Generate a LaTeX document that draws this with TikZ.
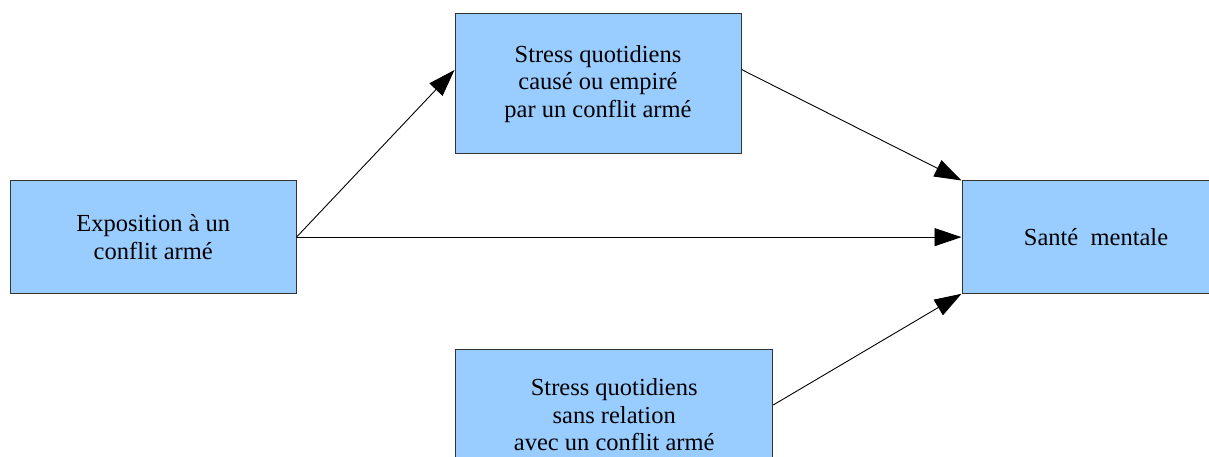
\documentclass[tikz,border=0pt]{standalone}
\usepackage{fontspec}
\setmainfont{Liberation Serif}
\usetikzlibrary{arrows.meta}
\definecolor{boxblue}{HTML}{99CCFF}
\definecolor{boxline}{HTML}{333333}
\begin{document}
\begin{tikzpicture}[x=1pt,y=1pt,
  box/.style={draw=boxline,line width=1pt,fill=boxblue,inner sep=0pt,align=center,
    font=\fontsize{24.5}{27.5}\selectfont},
  conn/.style={draw=black,line width=0.9pt,-{Triangle[length=27pt,width=18pt]}}]
\useasboundingbox (0,0) rectangle (1209,457);
\node[box,minimum width=285.5pt,minimum height=112.3pt] (expo) at (153.25,219.85) {Exposition à un\\conflit armé};
\node[box,minimum width=286pt,minimum height=140pt] (cause) at (598,373) {Stress quotidiens\\causé ou empiré\\par un conflit armé};
\node[box,minimum width=268pt,minimum height=112.3pt] (sante) at (1096,219.85) {Santé\ \ mentale};
\node[box,minimum width=317pt,minimum height=130pt] (sans) at (614.2,42) {Stress quotidiens\\sans relation\\avec un conflit armé};
\draw[conn] (expo.east) -- ([yshift=14pt]cause.west);
\draw[conn] (expo.east) -- (sante.west);
\draw[conn] ([yshift=14.5pt]cause.east) -- (sante.north west);
\draw[conn] ([yshift=10pt]sans.east) -- (sante.south west);
\end{tikzpicture}
\end{document}
